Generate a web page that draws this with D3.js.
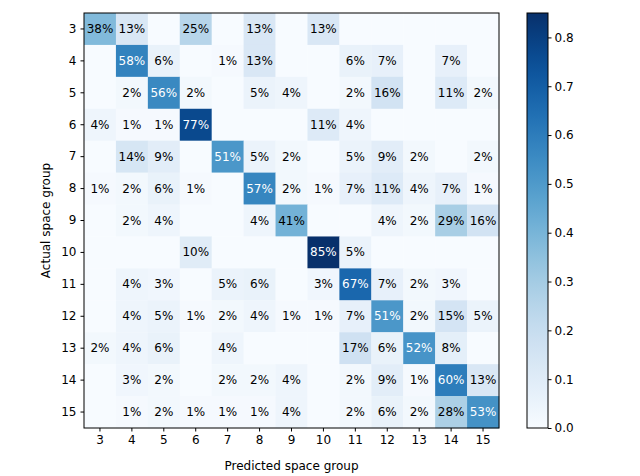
<!DOCTYPE html>
<html><head><meta charset="utf-8">
<script src="https://cdn.jsdelivr.net/npm/d3@7"></script>
<style>body{margin:0;background:#fff}svg{display:block}text{font-family:"DejaVu Sans",sans-serif;}</style>
</head><body>
<svg id="c" width="640" height="476"></svg>
<script>
const categories = ["3","4","5","6","7","8","9","10","11","12","13","14","15"];
const row3  = [38,13,0,25,0,13,0,13,0,0,0,0,0];
const row4  = [0,58,6,0,1,13,0,0,6,7,0,7,0];
const row5  = [0,2,56,2,0,5,4,0,2,16,0,11,2];
const row6  = [4,1,1,77,0,0,0,11,4,0,0,0,0];
const row7  = [0,14,9,0,51,5,2,0,5,9,2,0,2];
const row8  = [1,2,6,1,0,57,2,1,7,11,4,7,1];
const row9  = [0,2,4,0,0,4,41,0,0,4,2,29,16];
const row10 = [0,0,0,10,0,0,0,85,5,0,0,0,0];
const row11 = [0,4,3,0,5,6,0,3,67,7,2,3,0];
const row12 = [0,4,5,1,2,4,1,1,7,51,2,15,5];
const row13 = [2,4,6,0,4,0,0,0,17,6,52,8,0];
const row14 = [0,3,2,0,2,2,4,0,2,9,1,60,13];
const row15 = [0,1,2,1,1,1,4,0,2,6,2,28,53];
const rows = [row3,row4,row5,row6,row7,row8,row9,row10,row11,row12,row13,row14,row15];
const colorbarTicks = [0.0,0.1,0.2,0.3,0.4,0.5,0.6,0.7,0.8];
const xLabel = "Predicted space group";
const yLabel = "Actual space group";

const svg = d3.select("#c");
const L = 84, T = 13, W = 415, H = 415;
const vmax = 0.85;
const x = d3.scaleBand().domain(categories).range([L, L+W]);
const y = d3.scaleBand().domain(categories).range([T, T+H]);
const color = v => d3.interpolateBlues(Math.min(1, v/vmax));

const cells = [];
rows.forEach((r,i)=>r.forEach((v,j)=>cells.push({a:categories[i], p:categories[j], v:v/100})));

svg.append("g").selectAll("rect").data(cells).join("rect")
  .attr("x", d=>x(d.p)).attr("y", d=>y(d.a))
  .attr("width", x.bandwidth()+0.3).attr("height", y.bandwidth()+0.3)
  .attr("fill", d=>color(d.v));
svg.append("g").selectAll("text").data(cells.filter(d=>d.v>0)).join("text")
  .attr("x", d=>x(d.p)+x.bandwidth()/2).attr("y", d=>y(d.a)+y.bandwidth()/2)
  .attr("text-anchor","middle").attr("dominant-baseline","central")
  .attr("font-size", 12)
  .attr("fill", d=> d.v > vmax/2 ? "#fff" : "#000")
  .text(d=>d3.format(".0%")(d.v));

svg.append("rect").attr("x",L).attr("y",T).attr("width",W).attr("height",H)
  .attr("fill","none").attr("stroke","#000").attr("stroke-width",1);

const gx = svg.append("g").attr("transform",`translate(0,${T+H})`)
  .call(d3.axisBottom(x).tickSize(3.5).tickPadding(4));
const gy = svg.append("g").attr("transform",`translate(${L},0)`)
  .call(d3.axisLeft(y).tickSize(3.5).tickPadding(4));
[gx,gy].forEach(g=>{g.select(".domain").remove();
  g.selectAll("text").attr("font-size",12).attr("font-family","DejaVu Sans").attr("fill","#000");
  g.selectAll("line").attr("stroke","#000");});

svg.append("text").attr("x",L+W/2).attr("y",470).attr("text-anchor","middle")
  .attr("font-size",12).text(xLabel);
svg.append("text").attr("transform",`translate(50,${T+H/2}) rotate(-90)`).attr("text-anchor","middle")
  .attr("font-size",12).text(yLabel);

// colorbar
const CL = 527, CW = 21;
const cy = d3.scaleLinear().domain([0,vmax]).range([T+H, T]);
const defs = svg.append("defs");
const grad = defs.append("linearGradient").attr("id","g").attr("x1","0").attr("y1","1").attr("x2","0").attr("y2","0");
d3.range(0,1.0001,0.05).forEach(t=>grad.append("stop").attr("offset",t).attr("stop-color",d3.interpolateBlues(t)));
svg.append("rect").attr("x",CL).attr("y",T).attr("width",CW).attr("height",H).attr("fill","url(#g)")
  .attr("stroke","#000").attr("stroke-width",1);
const gc = svg.append("g").attr("transform",`translate(${CL+CW},0)`)
  .call(d3.axisRight(cy).tickValues(colorbarTicks).tickFormat(d3.format(".1f")).tickSize(3.5).tickPadding(3));
gc.select(".domain").remove();
gc.selectAll("text").attr("font-size",12).attr("font-family","DejaVu Sans").attr("fill","#000");
gc.selectAll("line").attr("stroke","#000");
</script>
</body></html>
